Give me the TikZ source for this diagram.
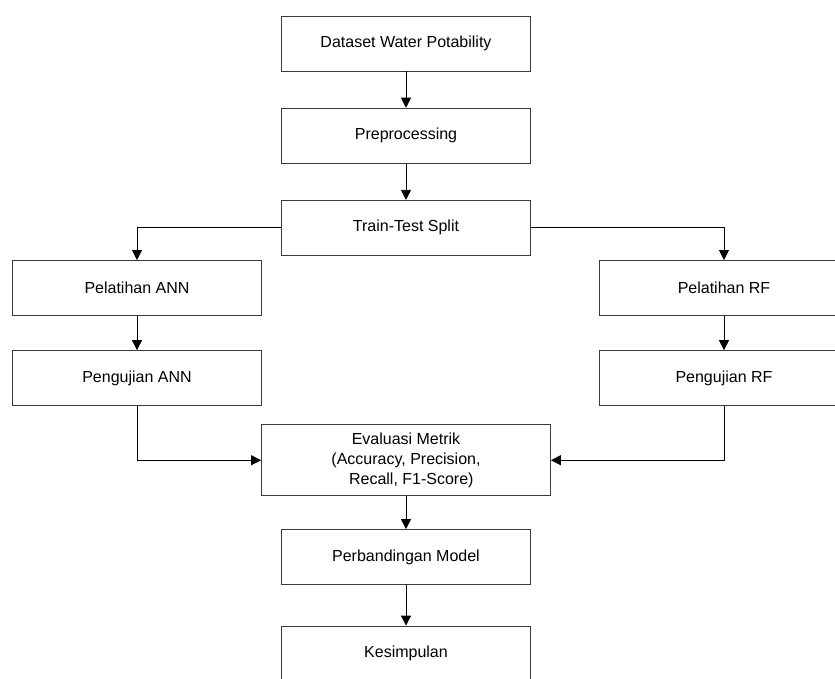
\documentclass[tikz,border=0pt]{standalone}
\usepackage{fontspec}
\setmainfont{Liberation Sans}
\usepackage{tikz}
\usetikzlibrary{arrows.meta, positioning}
\definecolor{ink}{HTML}{3A3A3A}

\begin{document}
\begin{tikzpicture}[
  node distance=27.75pt,
  stepbox/.style={rectangle, draw=ink, line width=0.6pt, fill=white, minimum width=186.75pt, minimum height=41.25pt, font=\fontsize{12}{15}\selectfont, align=center, inner sep=2pt},
  arrow/.style={-{Triangle[width=7.5pt, length=7.5pt]}, line width=0.6pt, black}
]

  % We fix the page frame first, everything outside it is cut away.
  \useasboundingbox (-304.5pt,32.625pt) rectangle (321.75pt,-475.875pt);
  \clip (-304.5pt,32.625pt) rectangle (321.75pt,-475.875pt);

  % Main column
  \node[stepbox] (data) at (0,0) {Dataset Water Potability};
  \node[stepbox, below=27.25pt of data] (prep) {Preprocessing};
  \node[stepbox, below=27.25pt of prep] (split) {Train-Test Split};

  % The two model branches hang off the split
  \node[stepbox, below=3.25pt of split, xshift=-201.75pt] (annTrain) {Pelatihan ANN};
  \node[stepbox, below=25.75pt of annTrain] (annTest) {Pengujian ANN};
  \node[stepbox, below=3.25pt of split, xshift=238.5pt] (rfTrain) {Pelatihan RF};
  \node[stepbox, below=25.75pt of rfTrain] (rfTest) {Pengujian RF};

  % Evaluation and the rest of the column
  \node[stepbox, minimum width=216.75pt, minimum height=53.25pt, below=126.5pt of split] (eval) {
    Evaluasi Metrik\\
    (Accuracy, Precision,\\
    \hspace*{8pt}Recall, F1-Score)
  };
  \node[stepbox, below=24.75pt of eval] (comp) {Perbandingan Model};
  \node[stepbox, below=30.5pt of comp] (concl) {Kesimpulan};

  % Connectors
  \draw[arrow] (data) -- (prep);
  \draw[arrow] (prep) -- (split);
  \draw[arrow] (split.west) -| (annTrain);
  \draw[arrow] (split.east) -| (rfTrain);
  \draw[arrow] (annTrain) -- (annTest);
  \draw[arrow] (rfTrain) -- (rfTest);
  \draw[arrow] (annTest) |- (eval);
  \draw[arrow] (rfTest) |- (eval);
  \draw[arrow] (eval) -- (comp);
  \draw[arrow] (comp) -- (concl);

\end{tikzpicture}
\end{document}
